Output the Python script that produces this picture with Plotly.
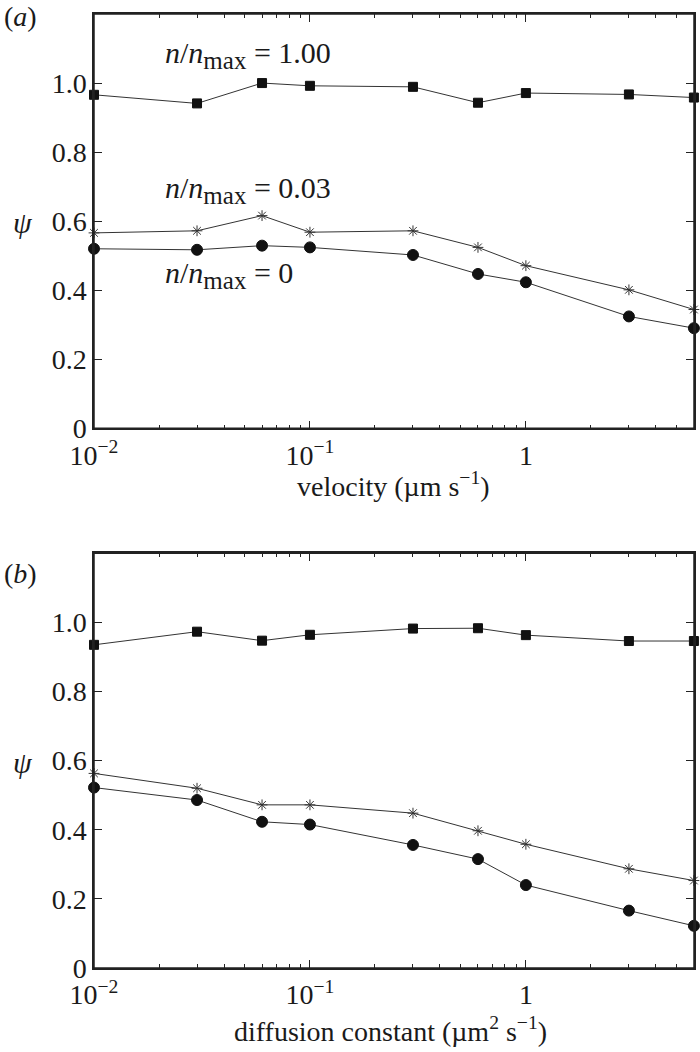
import plotly.graph_objects as go

x_vals = [0.01, 0.03, 0.06, 0.1, 0.3, 0.6, 1, 3, 6]

# panel (a): velocity
a_full = [0.966, 0.941, 1.000, 0.992, 0.989, 0.943, 0.971, 0.967, 0.958]
a_003 = [0.566, 0.572, 0.616, 0.568, 0.572, 0.524, 0.471, 0.401, 0.344]
a_zero = [0.520, 0.517, 0.529, 0.524, 0.502, 0.447, 0.423, 0.324, 0.290]

# panel (b): diffusion constant
b_full = [0.935, 0.973, 0.947, 0.964, 0.982, 0.983, 0.963, 0.946, 0.946]
b_003 = [0.563, 0.520, 0.472, 0.472, 0.448, 0.397, 0.358, 0.287, 0.253]
b_zero = [0.522, 0.486, 0.423, 0.415, 0.356, 0.315, 0.240, 0.166, 0.122]

y_ticks = [0, 0.2, 0.4, 0.6, 0.8, 1.0]
y_ticktext = ["0", "0.2", "0.4", "0.6", "0.8", "1.0"]
x_ticks = [0.01, 0.1, 1]
x_ticktext = ["10<sup>−2</sup>", "10<sup>−1</sup>", "1"]
minor_x = [m * d for d in (0.01, 0.1, 1) for m in range(2, 10) if m * d < 6]

FONT = "Liberation Serif, Times New Roman, serif"
LINE = "#333333"
TXT = "#1a1a1a"
FS = 28

# window pixel geometry
W, H = 700, 1052
L, R, T, B = 93.5, 694, 13.5, 968
PW, PH = R - L, B - T
X_MAX = 0.7785  # log10 of right edge (just past 6)


def px(xw):
    return (xw - L) / PW


def py(yw):
    return (B - yw) / PH


fig = go.Figure()


def add_series(xa, ya, yv, symbol, size, color):
    fig.add_trace(go.Scatter(
        x=x_vals, y=yv, mode="lines+markers", xaxis=xa, yaxis=ya,
        line=dict(color=LINE, width=1),
        marker=dict(symbol=symbol, size=size, color=color,
                    line=dict(color=color, width=1)),
        showlegend=False, cliponaxis=False))


for xa, ya, full, s003, zero in (("x", "y", a_full, a_003, a_zero),
                                 ("x2", "y2", b_full, b_003, b_zero)):
    add_series(xa, ya, full, "square", 9, "#111111")
    add_series(xa, ya, s003, "asterisk-open", 9, "#333333")
    add_series(xa, ya, zero, "circle", 11, "#111111")

common_x = dict(type="log", range=[-2, X_MAX], showline=True, linecolor="#222",
                linewidth=1.5, mirror="ticks", ticks="inside", ticklen=8,
                tickcolor="#222", tickwidth=1.2, tickmode="array",
                tickvals=x_ticks, ticktext=x_ticktext, showgrid=False,
                zeroline=False, automargin=False, ticklabelstandoff=1,
                tickfont=dict(family=FONT, size=FS, color=TXT),
                minor=dict(tickmode="array", tickvals=minor_x, ticks="inside",
                           ticklen=4, tickcolor="#222", tickwidth=1.2, showgrid=False),
                domain=[0, 1])
common_y = dict(range=[0, 1.2], showline=True, linecolor="#222", linewidth=1.5,
                mirror="ticks", ticks="inside", ticklen=8, tickcolor="#222",
                tickwidth=1.2, tickmode="array", tickvals=y_ticks,
                ticktext=y_ticktext, showgrid=False, zeroline=False,
                automargin=False,
                tickfont=dict(family=FONT, size=FS, color=TXT))

fig.update_layout(
    width=W, height=H,
    margin=dict(l=L, r=W - R, t=T, b=H - B, pad=0),
    paper_bgcolor="white", plot_bgcolor="white",
    font=dict(family=FONT, color=TXT, size=FS),
    xaxis=dict(common_x, anchor="y"),
    yaxis=dict(common_y, anchor="x", domain=[py(428), 1]),
    xaxis2=dict(common_x, anchor="y2"),
    yaxis2=dict(common_y, anchor="x2", domain=[0, py(553)]),
)

# full frame around each panel
for xr, yr in (("x domain", "y domain"), ("x2 domain", "y2 domain")):
    fig.add_shape(type="rect", xref=xr, yref=yr, x0=0, x1=1, y0=0, y1=1,
                  line=dict(color="#222", width=1.5),
                  fillcolor="rgba(0,0,0,0)", layer="above")

txt_font = dict(family=FONT, size=FS, color=TXT)

# axis titles
for text, xw, yw in (("velocity (µm s<sup>−1</sup>)", 393, 484),
                     ("diffusion constant (µm<sup>2</sup> s<sup>−1</sup>)", 390, 1030)):
    fig.add_annotation(text=text, x=px(xw), y=py(yw), xref="paper", yref="paper",
                       xanchor="center", yanchor="middle", showarrow=False,
                       font=txt_font)

nlab = '<i>n</i>/<i>n</i><sub><span style="font-size:25px">max</span></sub> = '
for text, yw in (("1.00", 55), ("0.03", 190), ("0", 275)):
    fig.add_annotation(text=nlab + text, x=px(163), y=py(yw), xref="paper",
                       yref="paper", xanchor="left", yanchor="middle",
                       showarrow=False, font=dict(family=FONT, size=30, color=TXT))

for text, yw in (("(<i>a</i>)", 16), ("(<i>b</i>)", 573)):
    fig.add_annotation(text=text, x=px(1), y=py(yw), xref="paper", yref="paper",
                       xanchor="left", yanchor="middle", showarrow=False,
                       font=txt_font)
for yw in (222, 762):
    fig.add_annotation(text="<i>ψ</i>", x=px(10), y=py(yw),
                       xref="paper", yref="paper", xanchor="left",
                       yanchor="middle", showarrow=False,
                       font=dict(family=FONT, size=30, color=TXT))

fig.write_html("out.html", config={"displayModeBar": False},
               post_script="document.body.style.margin='0';"
                           "document.body.style.overflow='hidden';")
